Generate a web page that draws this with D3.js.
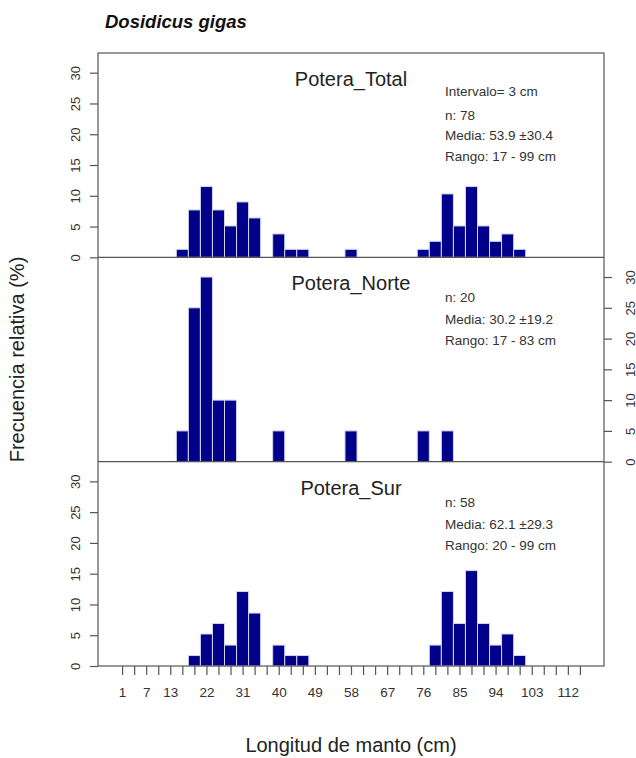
<!DOCTYPE html>
<html>
<head>
<meta charset="utf-8">
<script src="https://cdn.jsdelivr.net/npm/d3@7"></script>
<style>
  html, body { margin: 0; padding: 0; background: #fff; }
  svg { display: block; font-family: "Liberation Sans", Arial, sans-serif; }
</style>
</head>
<body>
<svg id="chart" width="636" height="758"></svg>
<script>
// Length classes (cm, bin midpoints, 3 cm interval)
const binMids = [16, 19, 22, 25, 28, 31, 34, 37, 40, 43, 46, 49, 52, 55, 58,
                 61, 64, 67, 70, 73, 76, 79, 82, 85, 88, 91, 94, 97, 100];

// Relative frequency (%) per length class
const totalPct = [1.3, 7.7, 11.5, 7.7, 5.1, 9.0, 6.4, 0, 3.8, 1.3, 1.3, 0, 0, 0, 1.3,
                  0, 0, 0, 0, 0, 1.3, 2.6, 10.3, 5.1, 11.5, 5.1, 2.6, 3.8, 1.3];
const nortePct = [5, 25, 30, 10, 10, 0, 0, 0, 5, 0, 0, 0, 0, 0, 5,
                  0, 0, 0, 0, 0, 5, 0, 5, 0, 0, 0, 0, 0, 0];
const surPct   = [0, 1.7, 5.2, 6.9, 3.4, 12.1, 8.6, 0, 3.4, 1.7, 1.7, 0, 0, 0, 0,
                  0, 0, 0, 0, 0, 0, 3.4, 12.1, 6.9, 15.5, 6.9, 3.4, 5.2, 1.7];

const panelNames = ["Potera_Total", "Potera_Norte", "Potera_Sur"];
const panelStats = [
  ["Intervalo= 3 cm", "n: 78", "Media: 53.9 \u00b130.4", "Rango: 17 - 99 cm"],
  ["n: 20", "Media: 30.2 \u00b119.2", "Rango: 17 - 83 cm"],
  ["n: 58", "Media: 62.1 \u00b129.3", "Rango: 20 - 99 cm"]
];

const xTickLabels = [1, 7, 13, 22, 31, 40, 49, 58, 67, 76, 85, 94, 103, 112];
const yTickLabels = [0, 5, 10, 15, 20, 25, 30];

const binWidth = 3;
const svg = d3.select("#chart");

const box = { left: 98, right: 604, top: 53, bottom: 666 };
const panelH = (box.bottom - box.top) / 3;

const x = d3.scaleLinear().domain([-5, 121]).range([box.left, box.right]);

const panels = [totalPct, nortePct, surPct];
const lineColor = "#555";
const textColor = "#333";

panels.forEach((vals, i) => {
  const y0 = box.top + i * panelH;
  const y = d3.scaleLinear().domain([0, 33.2]).range([y0 + panelH, y0]);
  const g = svg.append("g");

  // bars
  const bars = binMids.map((m, k) => ({ m, v: vals[k] })).filter(d => d.v > 0);
  g.selectAll("rect.bar").data(bars).join("rect")
    .attr("class", "bar")
    .attr("x", d => x(d.m - binWidth / 2))
    .attr("width", d => x(d.m + binWidth / 2) - x(d.m - binWidth / 2))
    .attr("y", d => y(d.v))
    .attr("height", d => y(0) - y(d.v))
    .attr("fill", "#00008b")
    .attr("stroke", "#d4d4ee")
    .attr("stroke-width", 1);

  // y axis: left for the outer panels, right for the middle one
  const right = (i === 1);
  const axis = (right ? d3.axisRight(y) : d3.axisLeft(y))
    .tickValues(yTickLabels).tickSize(8).tickPadding(4);
  const ag = g.append("g")
    .attr("transform", `translate(${right ? box.right : box.left},0)`)
    .call(axis);
  ag.select(".domain").remove();
  ag.selectAll(".tick line").attr("stroke", lineColor).attr("stroke-width", 1.2);
  ag.selectAll(".tick text")
    .attr("fill", textColor)
    .attr("font-size", 13)
    .attr("text-anchor", "middle")
    .attr("dy", null)
    .attr("x", null)
    .attr("transform", `translate(${right ? 26 : -23},0) rotate(-90)`)
    .attr("dominant-baseline", "central");

  // panel title
  g.append("text")
    .attr("x", (box.left + box.right) / 2)
    .attr("y", y0 + 33)
    .attr("text-anchor", "middle")
    .attr("font-size", 20)
    .attr("fill", "#222")
    .text(panelNames[i]);

  // summary statistics
  const stats = panelStats[i];
  const offs = stats.length === 4 ? [43, 67, 87, 108] : [45, 67, 88];
  g.selectAll("text.stat").data(stats).join("text")
    .attr("class", "stat")
    .attr("x", 445)
    .attr("y", (d, k) => y0 + offs[k])
    .attr("font-size", 13.5)
    .attr("fill", textColor)
    .text(d => d);

  // separator / baseline
  if (i > 0) {
    svg.append("line")
      .attr("x1", box.left).attr("x2", box.right)
      .attr("y1", y0).attr("y2", y0)
      .attr("stroke", lineColor).attr("stroke-width", 1.2);
  }
});

// outer frame
svg.append("rect")
  .attr("x", box.left).attr("y", box.top)
  .attr("width", box.right - box.left).attr("height", box.bottom - box.top)
  .attr("fill", "none").attr("stroke", lineColor).attr("stroke-width", 1.2);

// x axis
const xAxis = d3.axisBottom(x)
  .tickValues(d3.range(1, 116, 3))
  .tickSize(9).tickPadding(12)
  .tickFormat(d => xTickLabels.includes(d) ? d : "");
const xg = svg.append("g")
  .attr("transform", `translate(0,${box.bottom})`)
  .call(xAxis);
xg.select(".domain").remove();
xg.selectAll(".tick line").attr("stroke", lineColor).attr("stroke-width", 1.2);
xg.selectAll(".tick text").attr("fill", textColor).attr("font-size", 13.5);

// titles
svg.append("text")
  .attr("x", 105).attr("y", 28)
  .attr("font-size", 18.5)
  .attr("font-weight", "bold")
  .attr("font-style", "italic")
  .attr("fill", "#111")
  .text("Dosidicus gigas");

svg.append("text")
  .attr("x", (box.left + box.right) / 2).attr("y", 752)
  .attr("text-anchor", "middle")
  .attr("font-size", 20)
  .attr("fill", "#222")
  .text("Longitud de manto (cm)");

svg.append("text")
  .attr("transform", `translate(24,${(box.top + box.bottom) / 2}) rotate(-90)`)
  .attr("text-anchor", "middle")
  .attr("font-size", 20)
  .attr("fill", "#222")
  .text("Frecuencia relativa (%)");
</script>
</body>
</html>
